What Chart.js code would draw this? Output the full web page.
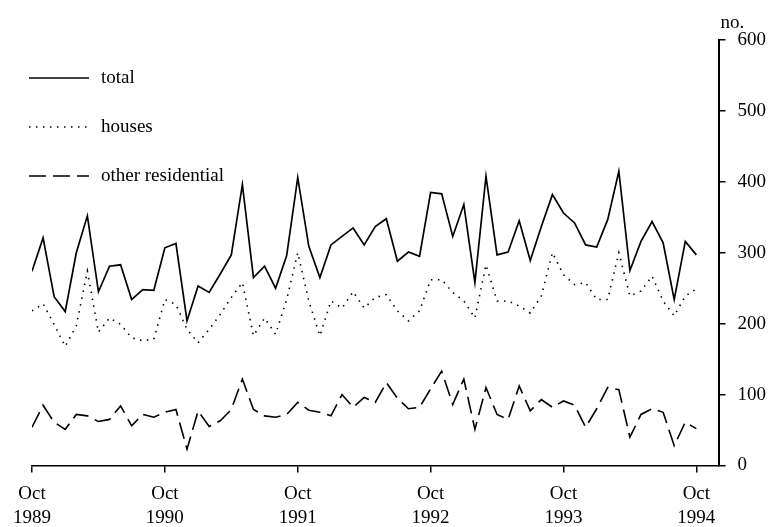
<!DOCTYPE html>
<html>
<head>
<meta charset="utf-8">
<script src="https://cdn.jsdelivr.net/npm/chart.js@4.4.1/dist/chart.umd.min.js"></script>
<style>
html, body { margin: 0; padding: 0; background: #fff; }
</style>
</head>
<body>
<canvas id="buildChart" width="774" height="527"></canvas>
<script>
// DATA (monthly, Oct 1989 - Oct 1994) //
var tickMonth = "Oct";
var tickYears = ["1989", "1990", "1991", "1992", "1993", "1994"];
var yTicks = [0, 100, 200, 300, 400, 500, 600];
var unitLabel = "no.";
var seriesNames = ["total", "houses", "other residential"];

var totalValues = [274, 321, 238, 217, 300, 352, 245, 281, 283, 234, 248, 247,
                   307, 313, 204, 253, 244, 270, 297, 396, 265, 281, 250, 296,
                   406, 309, 265, 311, 323, 335, 311, 337, 348, 288, 301, 295,
                   385, 383, 323, 368, 258, 408, 297, 301, 345, 289, 337, 382,
                   356, 342, 311, 308, 347, 415, 275, 316, 344, 314, 234, 316,
                   297];
var housesValues = [218, 228, 199, 168, 197, 274, 188, 208, 199, 180, 176, 178,
                    234, 227, 192, 173, 192, 213, 237, 258, 183, 208, 185, 234,
                    300, 232, 183, 232, 222, 245, 222, 237, 241, 218, 204, 218,
                    262, 262, 244, 232, 208, 283, 232, 232, 225, 215, 239, 300,
                    269, 255, 258, 234, 234, 300, 239, 246, 267, 232, 211, 239,
                    249];
var otherValues = [54, 85, 61, 51, 72, 70, 62, 65, 84, 56, 72, 68,
                   75, 79, 23, 77, 55, 63, 79, 122, 79, 70, 68, 72,
                   89, 78, 75, 70, 100, 82, 96, 89, 117, 95, 80, 82,
                   108, 133, 86, 122, 51, 110, 72, 65, 112, 77, 93, 82,
                   91, 85, 54, 80, 110, 107, 40, 72, 80, 75, 28, 61,
                   52];

// BUILD POINTS //
toPoints = (values) => {
    var array = [];
    for (var i = 0; i < values.length; i++) {
        array.push({x: i, y: values[i]});
    }
    return array;
}

var serifFont = '"Liberation Serif", "DejaVu Serif", serif';

// LEGEND + UNIT LABEL //
var extrasPlugin = {
    id: "extras",
    afterDraw: function(chart) {
        var ctx = chart.ctx;
        var yAxis = chart.scales.y;
        ctx.save();
        ctx.fillStyle = "#000";
        ctx.font = "19px " + serifFont;
        ctx.textBaseline = "middle";
        ctx.textAlign = "left";
        ctx.fillText(unitLabel, yAxis.left + 2, yAxis.top - 17);
        chart.data.datasets.forEach(function(ds, i) {
            var y = 78 + i * 49;
            ctx.beginPath();
            ctx.setLineDash(ds.borderDash || []);
            ctx.lineWidth = ds.borderWidth;
            ctx.strokeStyle = ds.borderColor;
            ctx.moveTo(29, y);
            ctx.lineTo(89, y);
            ctx.stroke();
            ctx.setLineDash([]);
            ctx.fillText(ds.label, 101, y);
        });
        ctx.restore();
    }
};

// CREATE CHART //
var chartContainer = document.getElementById("buildChart");
var buildChart = new Chart(chartContainer, {
    type: "line",
    data: {
        datasets: [{
            label: seriesNames[0],
            data: toPoints(totalValues),
            borderColor: "#000",
            borderWidth: 1.7
        }, {
            label: seriesNames[1],
            data: toPoints(housesValues),
            borderColor: "#000",
            borderWidth: 1.6,
            borderDash: [1.5, 5.5]
        }, {
            label: seriesNames[2],
            data: toPoints(otherValues),
            borderColor: "#000",
            borderWidth: 1.6,
            borderDash: [17, 7]
        }]
    },
    options: {
        responsive: false,
        animation: false,
        events: [],
        elements: {
            point: { radius: 0 },
            line: { tension: 0, fill: false }
        },
        layout: {
            padding: { left: 32, right: -4, top: 40, bottom: -13 }
        },
        plugins: {
            legend: { display: false },
            tooltip: { enabled: false }
        },
        scales: {
            x: {
                type: "linear",
                min: 0,
                max: 62,
                afterBuildTicks: function(scale) {
                    scale.ticks = tickYears.map(function(y, i) { return {value: i * 12}; });
                },
                ticks: {
                    autoSkip: false,
                    maxRotation: 0,
                    padding: 10,
                    color: "#000",
                    font: { family: serifFont, size: 19, lineHeight: 1.25 },
                    callback: function(value) {
                        return [tickMonth, tickYears[Math.round(value / 12)]];
                    }
                },
                grid: {
                    drawOnChartArea: false,
                    tickLength: 7,
                    color: "#000",
                    lineWidth: 1.5
                },
                border: { color: "#000", width: 1.5 }
            },
            y: {
                position: "right",
                min: yTicks[0],
                max: yTicks[yTicks.length - 1],
                ticks: {
                    stepSize: yTicks[1] - yTicks[0],
                    padding: 12,
                    color: "#000",
                    font: { family: serifFont, size: 19 }
                },
                grid: {
                    drawOnChartArea: false,
                    tickLength: 7,
                    color: "#000",
                    lineWidth: 1.5
                },
                border: { color: "#000", width: 2 }
            }
        }
    },
    plugins: [extrasPlugin]
});
</script>
</body>
</html>
